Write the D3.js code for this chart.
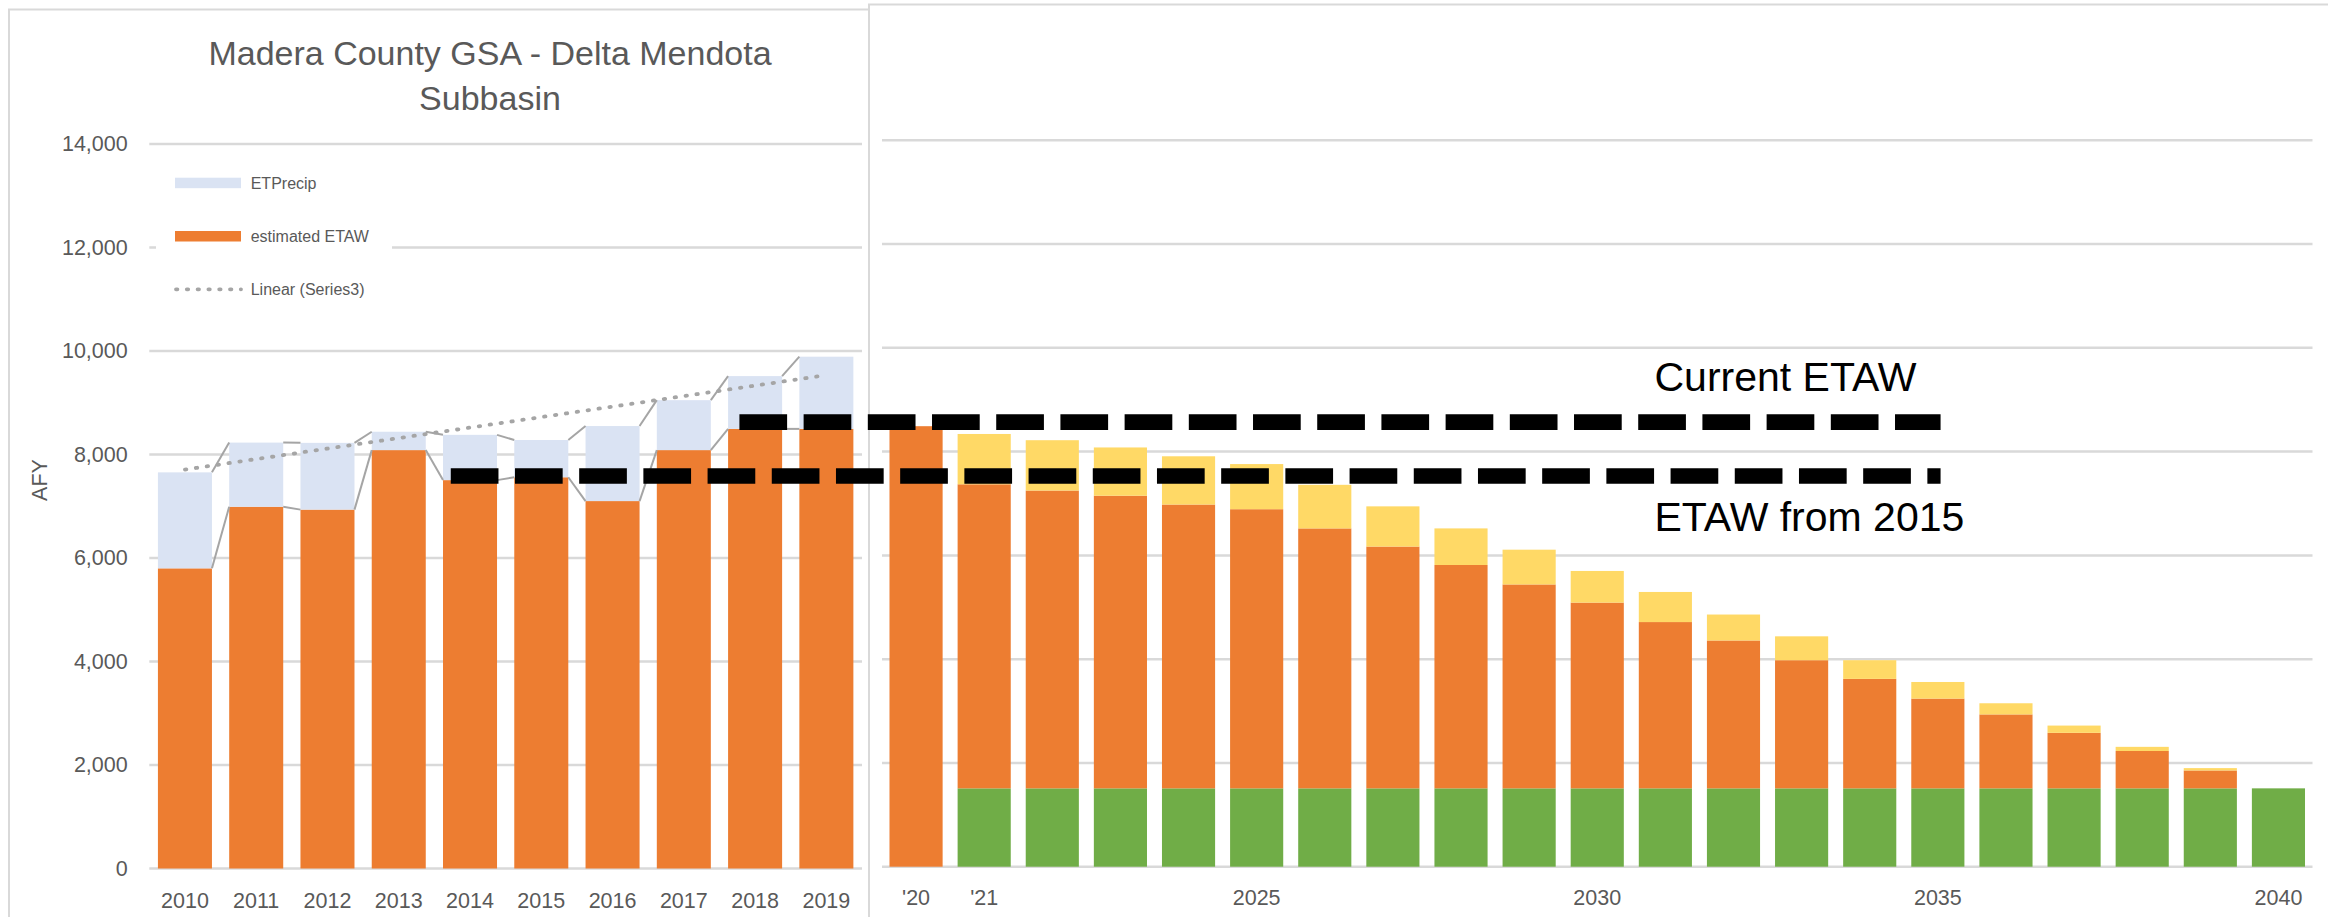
<!DOCTYPE html>
<html>
<head>
<meta charset="utf-8">
<script src="https://cdn.jsdelivr.net/npm/d3@7"></script>
<style>
  body { margin: 0; background: #fff; }
  svg { display: block; }
</style>
</head>
<body>
<div id="chart"></div>
<script>
var svgWidth = 2328;
var svgHeight = 917;
var fontFamily = "'Liberation Sans', Arial, sans-serif";

// historic years, left chart
var histYears = ["2010", "2011", "2012", "2013", "2014", "2015", "2016", "2017", "2018", "2019"];
var etawValues = [5800, 6990, 6935, 8085, 7505, 7560, 7100, 8085, 8495, 8495];
var etPrecipValues = [1855, 1240, 1290, 355, 875, 720, 1450, 965, 1020, 1395];

// projection years, right chart (green base, orange ETAW, yellow top)
var projYears = ["2020", "2021", "2022", "2023", "2024", "2025", "2026", "2027", "2028", "2029", "2030",
    "2031", "2032", "2033", "2034", "2035", "2036", "2037", "2038", "2039", "2040"];
var projGreen = [0, 1510, 1510, 1510, 1510, 1510, 1510, 1510, 1510, 1510, 1510,
    1510, 1510, 1510, 1510, 1510, 1510, 1510, 1510, 1510, 1510];
var projOrange = [8490, 5860, 5740, 5640, 5470, 5380, 5010, 4660, 4305, 3930, 3580,
    3205, 2850, 2470, 2110, 1730, 1425, 1070, 720, 345, 0];
var projYellow = [0, 970, 970, 930, 930, 870, 840, 775, 705, 670, 610,
    580, 500, 460, 360, 320, 215, 140, 80, 45, 0];

var yTicks = [0, 2000, 4000, 6000, 8000, 10000, 12000, 14000];
var projTickYears = ["2020", "2021", "2025", "2030", "2035", "2040"];
var projTickText = ["'20", "'21", "2025", "2030", "2035", "2040"];

// hand drawn reference lines
var refLabels = ["Current ETAW", "ETAW from 2015"];
var refValues = [8570, 7530];
var refFrom = [2017.78, 2013.73];
var refTo = [2035.04, 2035.04];
var refLabelYear = 2030.84;

var colors = {
    etaw: "#ED7D31",
    precip: "#DAE3F3",
    green: "#70AD47",
    yellow: "#FFD966",
    grid: "#D9D9D9",
    line: "#A5A5A5",
    text: "#595959"
};

var left = { x0: 149.3, x1: 862, top: 144, base: 868.5 };
var right = { x0: 882, x1: 2312.5, top: 140.3, base: 866.7 };

var svg = d3.select("#chart")
    .append("svg")
    .attr("width", svgWidth)
    .attr("height", svgHeight)
    .style("font-family", fontFamily);

// scales
var xLeft = d3.scaleBand().domain(histYears).range([left.x0, left.x1])
    .paddingInner(0.242).paddingOuter(0.121);
var yLeft = d3.scaleLinear().domain([0, 14000]).range([left.base, left.top]);
var xRight = d3.scaleBand().domain(projYears).range([right.x0, right.x1])
    .paddingInner(0.22).paddingOuter(0.11);
var yRight = d3.scaleLinear().domain([0, 14000]).range([right.base, right.top]);

// chart frames
svg.append("path")
    .attr("d", "M9,917V9.5H868")
    .attr("fill", "none").attr("stroke", colors.grid).attr("stroke-width", 2);
svg.append("path")
    .attr("d", "M869,917V4.5H2328")
    .attr("fill", "none").attr("stroke", colors.grid).attr("stroke-width", 2);

// gridlines
svg.append("g").selectAll("line")
    .data(yTicks)
    .enter()
    .append("line")
    .attr("x1", left.x0).attr("x2", left.x1)
    .attr("y1", d => yLeft(d)).attr("y2", d => yLeft(d))
    .attr("stroke", colors.grid).attr("stroke-width", 2.5);
svg.append("g").selectAll("line")
    .data(yTicks)
    .enter()
    .append("line")
    .attr("x1", right.x0).attr("x2", right.x1)
    .attr("y1", d => yRight(d)).attr("y2", d => yRight(d))
    .attr("stroke", colors.grid).attr("stroke-width", 2.5);

// left stacked bars
var histTable = histYears.map((y, i) => ({ year: y, etaw: etawValues[i], precip: etPrecipValues[i] }));
var histStack = d3.stack().keys(["etaw", "precip"])(histTable);

svg.append("g").selectAll("g")
    .data(histStack)
    .enter()
    .append("g")
    .attr("fill", d => colors[d.key])
    .selectAll("rect")
    .data(d => d)
    .enter()
    .append("rect")
    .attr("x", d => xLeft(d.data.year))
    .attr("width", xLeft.bandwidth())
    .attr("y", d => yLeft(d[1]))
    .attr("height", d => yLeft(d[0]) - yLeft(d[1]));

// series lines joining the segment tops
histStack.forEach(function(layer) {
    var segs = [];
    for (var i = 0; i < layer.length - 1; i++) {
        segs.push([
            [xLeft(histYears[i]) + xLeft.bandwidth(), yLeft(layer[i][1])],
            [xLeft(histYears[i + 1]), yLeft(layer[i + 1][1])]
        ]);
    }
    svg.append("g").selectAll("line")
        .data(segs)
        .enter()
        .append("line")
        .attr("x1", d => d[0][0]).attr("y1", d => d[0][1])
        .attr("x2", d => d[1][0]).attr("y2", d => d[1][1])
        .attr("stroke", colors.line).attr("stroke-width", 2);
});

// linear trend of the totals (Series3)
var totals = histTable.map(d => d.etaw + d.precip);
var meanX = d3.mean(totals, (d, i) => i);
var meanY = d3.mean(totals);
var slope = d3.sum(totals, (d, i) => (i - meanX) * (d - meanY)) / d3.sum(totals, (d, i) => (i - meanX) * (i - meanX));
var intercept = meanY - slope * meanX;
var lastIdx = totals.length - 1;

svg.append("line")
    .attr("x1", xLeft(histYears[0]) + xLeft.bandwidth() / 2)
    .attr("y1", yLeft(intercept))
    .attr("x2", xLeft(histYears[lastIdx]) + xLeft.bandwidth() / 2)
    .attr("y2", yLeft(intercept + slope * lastIdx))
    .attr("stroke", colors.line)
    .attr("stroke-width", 3.8)
    .attr("stroke-linecap", "round")
    .attr("stroke-dasharray", "1.4 9.6");

// right stacked bars
var projTable = projYears.map((y, i) => ({ year: y, green: projGreen[i], etaw: projOrange[i], yellow: projYellow[i] }));
var projStack = d3.stack().keys(["green", "etaw", "yellow"])(projTable);

svg.append("g").selectAll("g")
    .data(projStack)
    .enter()
    .append("g")
    .attr("fill", d => colors[d.key])
    .selectAll("rect")
    .data(d => d.filter(s => s[1] > s[0]))
    .enter()
    .append("rect")
    .attr("x", d => xRight(d.data.year))
    .attr("width", xRight.bandwidth())
    .attr("y", d => yRight(d[1]))
    .attr("height", d => yRight(d[0]) - yRight(d[1]));

// axes
var leftAxis = d3.axisLeft(yLeft)
    .tickValues(yTicks)
    .tickSize(0)
    .tickPadding(21.6)
    .tickFormat(d3.format(","));
var yAxis = svg.append("g")
    .attr("transform", `translate(${left.x0}, 0)`)
    .call(leftAxis);

var xAxisLeft = svg.append("g")
    .attr("transform", `translate(0, ${left.base})`)
    .call(d3.axisBottom(xLeft).tickSize(0).tickPadding(24.5));

var xAxisRight = svg.append("g")
    .attr("transform", `translate(0, ${right.base})`)
    .call(d3.axisBottom(xRight)
        .tickValues(projTickYears)
        .tickFormat((d, i) => projTickText[i])
        .tickSize(0)
        .tickPadding(23.3));

[yAxis, xAxisLeft, xAxisRight].forEach(function(ax) {
    ax.select(".domain").remove();
    ax.attr("font-family", fontFamily).attr("font-size", 21.5);
    ax.selectAll("text").attr("fill", colors.text);
});

svg.append("text")
    .attr("transform", "translate(47, 480) rotate(-90)")
    .attr("text-anchor", "middle")
    .attr("font-size", 21.5)
    .attr("fill", colors.text)
    .text("AFY");

// title
var title = svg.append("text")
    .attr("text-anchor", "middle")
    .attr("font-size", 34)
    .attr("fill", colors.text);
title.append("tspan").attr("x", 490).attr("y", 65).text("Madera County GSA - Delta Mendota");
title.append("tspan").attr("x", 490).attr("y", 110).text("Subbasin");

// legend
var legend = svg.append("g");
legend.append("rect")
    .attr("x", 156).attr("y", 160)
    .attr("width", 236).attr("height", 150)
    .attr("fill", "#fff");

var legendItems = [
    { label: "ETPrecip", kind: "bar", color: colors.precip },
    { label: "estimated ETAW", kind: "bar", color: colors.etaw },
    { label: "Linear (Series3)", kind: "dots", color: colors.line }
];

legendItems.forEach(function(item, i) {
    var cy = 182.7 + i * 53.3;
    if (item.kind === "bar") {
        legend.append("rect")
            .attr("x", 175).attr("y", cy - 5)
            .attr("width", 66).attr("height", 10.5)
            .attr("fill", item.color);
    } else {
        legend.append("line")
            .attr("x1", 176).attr("x2", 241)
            .attr("y1", cy).attr("y2", cy)
            .attr("stroke", item.color)
            .attr("stroke-width", 3.8)
            .attr("stroke-linecap", "round")
            .attr("stroke-dasharray", "1.4 9.4");
    }
    legend.append("text")
        .attr("x", 250.7)
        .attr("y", cy + 5.8)
        .attr("font-size", 16)
        .attr("fill", colors.text)
        .text(item.label);
});

// position of a (fractional) year across both panels
function xAt(year) {
    if (year < 2019.5) {
        return xLeft(histYears[0]) + xLeft.bandwidth() / 2 + (year - 2010) * xLeft.step();
    }
    return xRight(projYears[0]) + xRight.bandwidth() / 2 + (year - 2020) * xRight.step();
}

// reference lines and their labels
refLabels.forEach(function(label, i) {
    var y = yRight(refValues[i]);
    svg.append("line")
        .attr("x1", xAt(refFrom[i])).attr("x2", xAt(refTo[i]))
        .attr("y1", y).attr("y2", y)
        .attr("stroke", "#000")
        .attr("stroke-width", 15.7)
        .attr("stroke-dasharray", "47.7 16.5");
    svg.append("text")
        .attr("x", xAt(refLabelYear))
        .attr("y", i === 0 ? y - 31 : y + 55)
        .attr("font-size", 41)
        .attr("fill", "#000")
        .text(label);
});
</script>
</body>
</html>
